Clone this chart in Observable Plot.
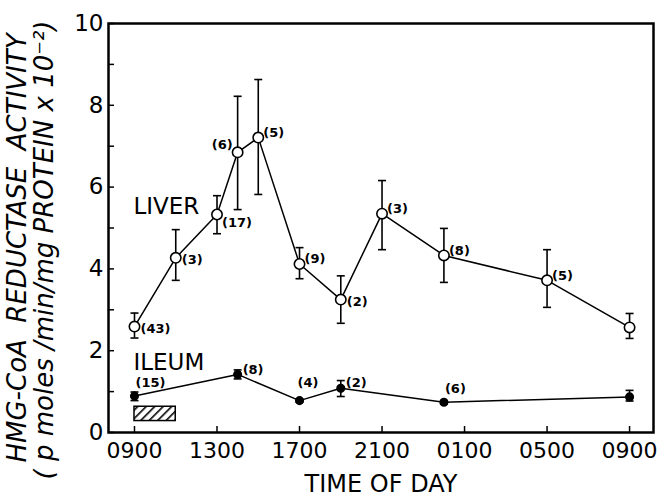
<!DOCTYPE html>
<html><head><meta charset="utf-8">
<script src="https://cdn.jsdelivr.net/npm/d3@7"></script>
<script src="https://cdn.jsdelivr.net/npm/@observablehq/plot@0.6"></script>
<style>body{margin:0;background:#fff} #chart svg{display:block}</style>
</head><body><div id="chart"></div>
<script>
// hours after 0900
const liverHours = [0, 2, 4, 5, 6, 8, 10, 12, 15, 20, 24];
const liverMean  = [2.59, 4.27, 5.33, 6.85, 7.21, 4.12, 3.25, 5.35, 4.33, 3.72, 2.57];
const liverLow   = [2.31, 3.72, 4.86, 5.45, 5.82, 3.76, 2.67, 4.47, 3.67, 3.06, 2.30];
const liverHigh  = [2.92, 4.96, 5.79, 8.22, 8.63, 4.52, 3.83, 6.16, 4.99, 4.47, 2.91];
const liverN     = ["(43)", "(3)", "(17)", "(6)", "(5)", "(9)", "(2)", "(3)", "(8)", "(5)", ""];
const liverSide  = ["e", "e", "se", "nw", "ne", "ne", "e", "ne", "ne", "ne", ""];

const ileumHours = [0, 5, 8, 10, 15, 24];
const ileumMean  = [0.89, 1.42, 0.78, 1.08, 0.74, 0.87];
const ileumLow   = [0.78, 1.31, 0.74, 0.88, 0.70, 0.77];
const ileumHigh  = [0.99, 1.53, 0.82, 1.27, 0.78, 1.03];
const ileumN     = ["(15)", "(8)", "(4)", "(2)", "(6)", ""];
const ileumSide  = ["n", "ne", "nn", "ne", "n", ""];

const xTickValues = [0, 4, 8, 12, 16, 20, 24];
const xTickLabels = ["0900", "1300", "1700", "2100", "0100", "0500", "0900"];
const yTickValues = [0, 1, 2, 3, 4, 5, 6, 7, 8, 9, 10];
const yLabelValues = [0, 2, 4, 6, 8, 10];

const barFrom = [0], barTo = [2], barBottom = [0.28], barTop = [0.63];

const seriesNames = ["LIVER", "ILEUM"];
const seriesNameHour = [-0.05, -0.05];
const seriesNameValue = [5.53, 1.7];

const yTitle1 = "HMG-CoA  REDUCTASE  ACTIVITY";
const yTitle2 = "( p moles /min/mg PROTEIN x 10\u207B\u00B2)";
const xTitle = "TIME OF DAY";

const liver = liverHours.map((h, i) => ({h, m: liverMean[i], lo: liverLow[i], hi: liverHigh[i], n: liverN[i], side: liverSide[i]}));
const ileum = ileumHours.map((h, i) => ({h, m: ileumMean[i], lo: ileumLow[i], hi: ileumHigh[i], n: ileumN[i], side: ileumSide[i]}));
const bar = barFrom.map((f, i) => ({f, t: barTo[i], b: barBottom[i], tp: barTop[i]}));
const names = seriesNames.map((s, i) => ({s, h: seriesNameHour[i], v: seriesNameValue[i]}));

const cap = {draw(ctx, size) { const w = Math.sqrt(size / Math.PI); ctx.moveTo(-w, 0); ctx.lineTo(w, 0); }};

const place = {
  e:  {dx: 6, dy: 2, textAnchor: "start"},
  se: {dx: 5, dy: 8, textAnchor: "start"},
  nw: {dx: -5, dy: -8, textAnchor: "end"},
  ne: {dx: 5, dy: -5, textAnchor: "start"},
  n:  {dx: 1, dy: -13, textAnchor: "start"},
  nn: {dx: -2, dy: -18, textAnchor: "start"}
};
const labelMarks = [];
for (const [k, p] of Object.entries(place)) {
  for (const ds of [liver, ileum]) {
    labelMarks.push(Plot.text(ds.filter(d => d.side === k), {x: "h", y: "m", text: "n", dx: p.dx, dy: p.dy, textAnchor: p.textAnchor, fontSize: 13, fontWeight: "bold"}));
  }
}

function series(ds, filled) {
  return [
    Plot.line(ds, {x: "h", y: "m", stroke: "black", strokeWidth: 1.5}),
    Plot.ruleX(ds, {x: "h", y1: "lo", y2: "hi", stroke: "black", strokeWidth: 1.6}),
    Plot.dot(ds, {x: "h", y: "lo", symbol: cap, r: 4, stroke: "black", strokeWidth: 1.6}),
    Plot.dot(ds, {x: "h", y: "hi", symbol: cap, r: 4, stroke: "black", strokeWidth: 1.6}),
    filled
      ? Plot.dot(ds, {x: "h", y: "m", r: 3.8, fill: "black", stroke: "black"})
      : Plot.dot(ds, {x: "h", y: "m", r: 5.2, fill: "white", stroke: "black", strokeWidth: 1.6})
  ];
}

const svg = Plot.plot({
  width: 657, height: 498,
  marginLeft: 108, marginRight: 4, marginTop: 23, marginBottom: 66,
  style: {fontFamily: "'DejaVu Sans', sans-serif", background: "white", color: "black"},
  x: {domain: [-1.26, 25.16]},
  y: {domain: [0, 10]},
  marks: [
    Plot.rect(bar, {x1: "f", x2: "t", y1: "b", y2: "tp", fill: "url(#hatch)", stroke: "black", strokeWidth: 1.5}),
    ...series(liver, false),
    ...series(ileum, true),
    ...labelMarks,
    Plot.text(names, {x: "h", y: "v", text: "s", textAnchor: "start", fontSize: 23}),
    Plot.axisX(xTickValues, {tickSize: -6, tickFormat: () => "", strokeWidth: 1.5}),
    Plot.axisX(xTickValues, {tickSize: 0, tickPadding: 10, tickFormat: (d) => xTickLabels[xTickValues.indexOf(d)], fontSize: 22}),
    Plot.axisY(yTickValues, {tickSize: -6, tickFormat: () => "", strokeWidth: 1.5}),
    Plot.axisY(yLabelValues, {tickSize: 0, tickPadding: 5, fontSize: 23}),
    Plot.text([xTitle], {frameAnchor: "bottom", textAnchor: "middle", lineAnchor: "middle", dy: 52, fontSize: 24}),
    Plot.text([yTitle1], {frameAnchor: "left", textAnchor: "middle", lineAnchor: "middle", dx: -91, dy: 20, rotate: -90, fontSize: 26, fontStyle: "italic"}),
    Plot.text([yTitle2], {frameAnchor: "left", textAnchor: "middle", lineAnchor: "middle", dx: -64, dy: 22, rotate: -90, fontSize: 26, fontStyle: "italic"}),
    Plot.frame({stroke: "black", strokeWidth: 2.5})
  ]
});

const defs = d3.select(svg).insert("defs", ":first-child");
const pat = defs.append("pattern").attr("id", "hatch").attr("patternUnits", "userSpaceOnUse")
  .attr("width", 6).attr("height", 6).attr("patternTransform", "rotate(45)");
pat.append("rect").attr("width", 6).attr("height", 6).attr("fill", "white");
pat.append("line").attr("x1", 0).attr("y1", 0).attr("x2", 0).attr("y2", 6).attr("stroke", "black").attr("stroke-width", 3.2);

document.getElementById("chart").appendChild(svg);
</script>
</body></html>
